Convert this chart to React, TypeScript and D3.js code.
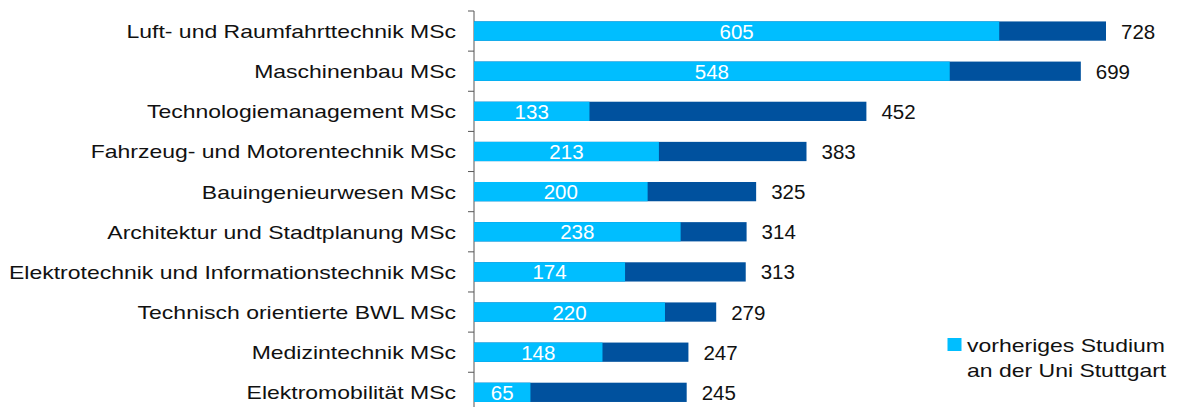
import React from "react";
import * as d3 from "d3";

const categories = [
  "Luft- und Raumfahrttechnik MSc",
  "Maschinenbau MSc",
  "Technologiemanagement MSc",
  "Fahrzeug- und Motorentechnik MSc",
  "Bauingenieurwesen MSc",
  "Architektur und Stadtplanung MSc",
  "Elektrotechnik und Informationstechnik MSc",
  "Technisch orientierte BWL MSc",
  "Medizintechnik MSc",
  "Elektromobilität MSc",
];
const priorStudy = [605, 548, 133, 213, 200, 238, 174, 220, 148, 65];
const totals = [728, 699, 452, 383, 325, 314, 313, 279, 247, 245];
const legendLines = ["vorheriges Studium", "an der Uni Stuttgart"];

const W = 1193;
const H = 407;
const FONT = "'Liberation Sans', Arial, sans-serif";
const LIGHT = "#00BEFF";
const DARK = "#00519E";
const TEXT_SIZE = 19;
const TEXT_STRETCH = 1.21; // wide grotesque look for the labels
const NUM_SIZE = 20.5;

export default function App() {
  const x = d3.scaleLinear().domain([0, 728]).range([474, 1106]);
  const y = d3
    .scaleBand<string>()
    .domain(categories)
    .range([11, 11 + 401.4])
    .paddingInner(0.52)
    .paddingOuter(0.26);
  const bw = y.bandwidth();
  const step = y.step();

  return (
    <svg
      width={W}
      height={H}
      style={{ position: "absolute", left: 0, top: 0, background: "#fff" }}
      fontFamily={FONT}
    >
      {/* category axis */}
      <line x1={x(0)} x2={x(0)} y1={11} y2={H} stroke="#555" strokeWidth={1} />
      {categories.map((_, i) => (
        <line
          key={"t" + i}
          x1={x(0) - 6}
          x2={x(0)}
          y1={11 + i * step}
          y2={11 + i * step}
          stroke="#555"
          strokeWidth={1}
        />
      ))}
      {categories.map((c, i) => {
        const y0 = y(c)!;
        const cy = y0 + bw / 2;
        return (
          <g key={c}>
            <text
              transform={`translate(456,${cy + 7}) scale(${TEXT_STRETCH},1)`}
              textAnchor="end"
              fontSize={TEXT_SIZE}
              fill="#111"
            >
              {c}
            </text>
            <rect x={x(0)} y={y0} width={x(totals[i]) - x(0)} height={bw} fill={DARK} />
            <rect
              x={x(0)}
              y={y0}
              width={x(priorStudy[i]) - x(0)}
              height={bw}
              fill={LIGHT}
            />
            <text
              x={(x(0) + x(priorStudy[i])) / 2}
              y={cy + 7.5}
              textAnchor="middle"
              fontSize={NUM_SIZE}
              fill="#fff"
            >
              {priorStudy[i]}
            </text>
            <text x={x(totals[i]) + 15} y={cy + 7.5} fontSize={NUM_SIZE} fill="#111">
              {totals[i]}
            </text>
          </g>
        );
      })}
      {/* legend */}
      <rect x={947.5} y={338} width={14} height={13} fill={LIGHT} />
      {legendLines.map((l, i) => (
        <text
          key={l}
          transform={`translate(967,${351.5 + i * 25.5}) scale(${TEXT_STRETCH},1)`}
          fontSize={TEXT_SIZE}
          fill="#111"
        >
          {l}
        </text>
      ))}
    </svg>
  );
}
